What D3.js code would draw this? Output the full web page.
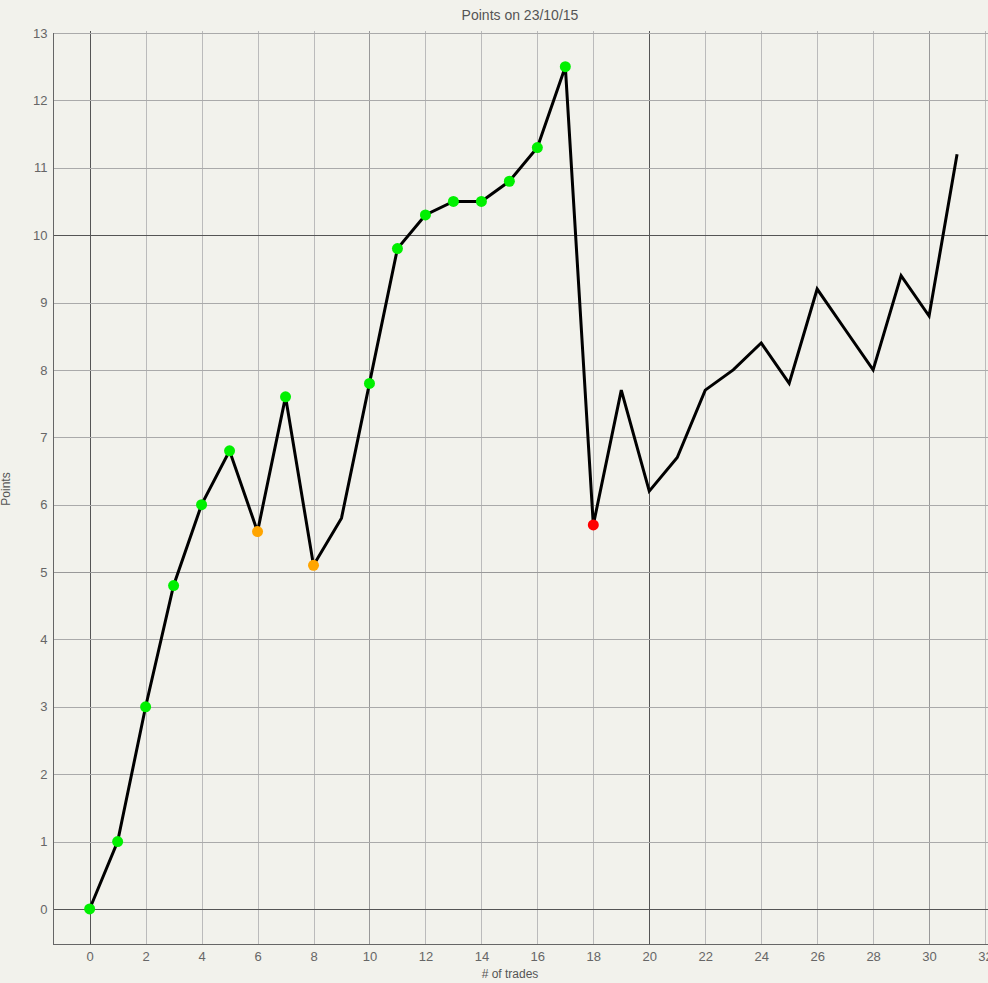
<!DOCTYPE html>
<html><head><meta charset="utf-8">
<script src="https://cdn.jsdelivr.net/npm/d3@7/dist/d3.min.js"></script>
<style>
html,body{margin:0;padding:0;background:#f2f2ec;overflow:hidden;}
text{font-family:"Helvetica Neue",Helvetica,Arial,"Liberation Sans",sans-serif;}
</style></head>
<body>
<svg id="c" width="988" height="983"></svg>
<script>
const title = "Points on 23/10/15";
const xLabel = "# of trades";
const yLabel = "Points";
const trades = [0,1,2,3,4,5,6,7,8,9,10,11,12,13,14,15,16,17,18,19,20,21,22,23,24,25,26,27,28,29,30,31];
const points = [0,1,3,4.8,6,6.8,5.6,7.6,5.1,5.8,7.8,9.8,10.3,10.5,10.5,10.8,11.3,12.5,5.7,7.7,6.2,6.7,7.7,8.0,8.4,7.8,9.2,8.6,8.0,9.4,8.8,11.2];
// marker kind per point: g = green, o = orange, r = red, "" = none
const markers = ["g","g","g","g","g","g","o","g","o","","g","g","g","g","g","g","g","g","r","","","","","","","","","","","","",""];
const xTicks = [0,2,4,6,8,10,12,14,16,18,20,22,24,26,28,30,32];
const yTicks = [0,1,2,3,4,5,6,7,8,9,10,11,12,13];

const markerColor = {g:"#00f000", o:"#ffa500", r:"#ff0000"};
const svg = d3.select("#c");
const L = 53, R = 987, T = 33, B = 944;
const x = d3.scaleLinear().domain([-1.31, 32.07]).range([L, R]);
const y = d3.scaleLinear().domain([-0.52, 13]).range([B, T]);

function gridColorX(v){ if(v===0||v===20) return "#555"; if(v===10||v===30) return "#999"; return "#bbb"; }
function gridColorY(v){ if(v===0||v===10) return "#555"; if(v===5) return "#999"; return "#aaa"; }

const g = svg.append("g");
g.selectAll("line.vx").data(xTicks.filter(d=>x(d)<=R+1)).enter().append("line")
  .attr("x1",d=>Math.round(x(d))+0.5).attr("x2",d=>Math.round(x(d))+0.5)
  .attr("y1",T-2).attr("y2",B)
  .attr("stroke",gridColorX).attr("stroke-width",1);
g.selectAll("line.hy").data(yTicks).enter().append("line")
  .attr("y1",d=>Math.round(y(d))+0.5).attr("y2",d=>Math.round(y(d))+0.5)
  .attr("x1",L).attr("x2",R+2)
  .attr("stroke",gridColorY).attr("stroke-width",1);

const xAxis = d3.axisBottom(x).tickValues(xTicks).tickSize(0).tickPadding(7);
const ax = svg.append("g").attr("transform",`translate(0,${B+0.5})`).call(xAxis);
ax.select(".domain").attr("stroke","#666").attr("d",`M${L},0H${R+2}`);
ax.selectAll("text").attr("fill","#666").style("font-size","13px");

const yAxis = d3.axisLeft(y).tickValues(yTicks).tickSize(0).tickPadding(6);
const ay = svg.append("g").attr("transform",`translate(${L+0.5},0)`).call(yAxis);
ay.select(".domain").attr("stroke","#666").attr("d",`M0,${T}V${B}`);
ay.selectAll("text").attr("fill","#666").style("font-size","13px");

const data = trades.map((t,i)=>({t, p:points[i], m:markers[i]}));
svg.append("path").datum(data)
  .attr("fill","none").attr("stroke","#000").attr("stroke-width",3).attr("stroke-linejoin","miter")
  .attr("d", d3.line().x(d=>x(d.t)).y(d=>y(d.p)));

svg.selectAll("circle.m").data(data.filter(d=>d.m)).enter().append("circle")
  .attr("cx",d=>x(d.t)).attr("cy",d=>y(d.p)).attr("r",5.5)
  .attr("fill",d=>markerColor[d.m]);

svg.append("text").attr("x",520).attr("y",20).attr("text-anchor","middle")
  .attr("fill","#555").style("font-size","14px").text(title);
svg.append("text").attr("x",510).attr("y",978).attr("text-anchor","middle")
  .attr("fill","#555").style("font-size","12px").text(xLabel);
svg.append("text").attr("transform","translate(10,489) rotate(-90)").attr("text-anchor","middle")
  .attr("fill","#555").style("font-size","12px").text(yLabel);
</script>
</body></html>
